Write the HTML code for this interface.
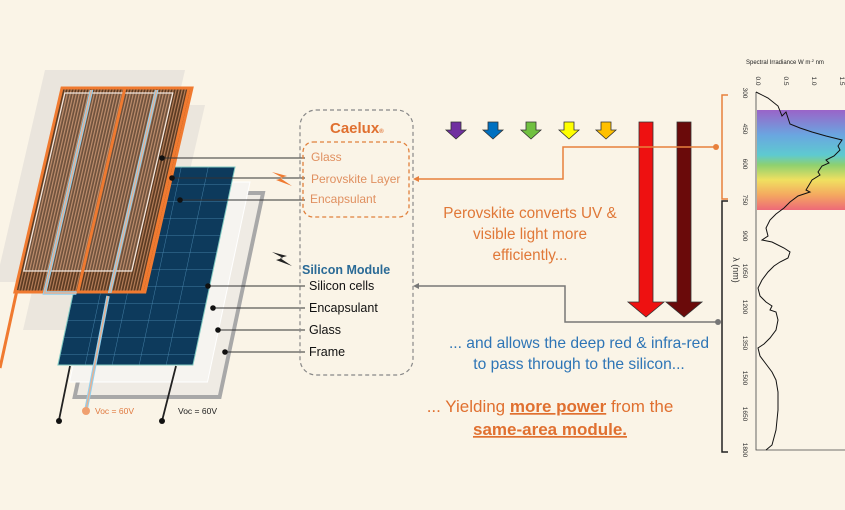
<!DOCTYPE html>
<html><head><meta charset="utf-8"><style>
html,body{margin:0;padding:0;background:#faf4e7;}
svg{display:block;font-family:"Liberation Sans",sans-serif;}
</style></head><body>
<svg width="845" height="510" viewBox="0 0 845 510" xmlns="http://www.w3.org/2000/svg">
<defs>
<pattern id="st" width="3" height="10" patternUnits="userSpaceOnUse"><rect width="3" height="10" fill="#5a3a22"/><rect width="1.2" height="10" fill="#b8805a"/></pattern>
<pattern id="cells" width="27" height="17" patternUnits="userSpaceOnUse"><rect width="27" height="17" fill="#0d3a5c"/><path d="M0 0H27M0 0V17" stroke="#4f8fb8" stroke-width="0.8"/></pattern>
<linearGradient id="rb" x1="0" y1="0" x2="0" y2="1">
<stop offset="0" stop-color="#9a64c8"/><stop offset="0.25" stop-color="#6aa6e0"/><stop offset="0.45" stop-color="#5ecad0"/><stop offset="0.55" stop-color="#8ed070"/><stop offset="0.7" stop-color="#f0e060"/><stop offset="0.85" stop-color="#f4a860"/><stop offset="1" stop-color="#ee6a78"/></linearGradient>
</defs>
<rect width="845" height="510" fill="#faf4e7"/>
<g transform="translate(45,70) skewX(-13)"><rect width="140" height="212" fill="#e6e2da" opacity="0.85"/></g>
<g transform="translate(75,105) skewX(-13)"><rect width="130" height="225" fill="#e4e0d8" opacity="0.7"/></g>
<g transform="translate(118,193) skewX(-12)"><rect width="145" height="204" fill="#efebe4" stroke="#a8a8a8" stroke-width="4"/></g>
<g transform="translate(112,182) skewX(-12)"><rect width="138" height="200" fill="#f6f4f0" stroke="#fff" stroke-width="1"/></g>
<g transform="translate(100,167) skewX(-12)"><rect width="135" height="198" fill="url(#cells)" stroke="#7fc8c0" stroke-width="1"/></g>
<g transform="translate(62,88) skewX(-13)">
<rect width="130" height="204" fill="url(#st)"/>
<rect x="0" y="0" width="130" height="204" fill="none" stroke="#f07a30" stroke-width="3"/>
<rect x="4" y="5" width="108" height="178" fill="#ffffff" fill-opacity="0.12" stroke="#f2e8e0" stroke-width="1.2"/>
<path d="M30 2V205H62" fill="none" stroke="#8fd0f0" stroke-width="3.5"/><path d="M30 2V205H62" fill="none" stroke="#e8b090" stroke-width="1.5"/>
<path d="M95 2V205" fill="none" stroke="#8fd0f0" stroke-width="3.5"/><path d="M95 2V205" fill="none" stroke="#e8b090" stroke-width="1.5"/>
<path d="M63 0V204" stroke="#f07a30" stroke-width="3"/>
<path d="M127 0V204" stroke="#f07a30" stroke-width="3"/>
</g>
<path d="M17 290L0 368" stroke="#f07a30" stroke-width="3"/>
<path d="M108 296L86 410" stroke="#8fd0f0" stroke-width="3.5"/><path d="M108 296L86 410" stroke="#e8b090" stroke-width="1.5"/>
<circle cx="86" cy="411" r="4" fill="#f0a070"/>
<text x="95" y="414" font-size="8.5" fill="#e07a40">Voc = 60V</text>
<path d="M70 366L59 420M176 366L162 421" stroke="#222" stroke-width="1.8"/>
<circle cx="59" cy="421" r="3" fill="#111"/><circle cx="162" cy="421" r="3" fill="#111"/>
<text x="178" y="414" font-size="8.5" fill="#222">Voc = 60V</text>
<g stroke="#333" stroke-width="1.1">
<path d="M162 158H305M172 178H305M180 200H305M208 286H305M213 308H305M218 330H305M225 352H305"/>
</g>
<g fill="#111"><circle cx="162" cy="158" r="2.8"/><circle cx="172" cy="178" r="2.8"/><circle cx="180" cy="200" r="2.8"/><circle cx="208" cy="286" r="2.8"/><circle cx="213" cy="308" r="2.8"/><circle cx="218" cy="330" r="2.8"/><circle cx="225" cy="352" r="2.8"/></g>
<path d="M272 172L287 176L280 178L292 186L276 180L283 178Z" fill="#f07a30"/>
<path d="M272 252L287 256L280 258L292 266L276 260L283 258Z" fill="#222"/>
<rect x="300" y="110" width="113" height="265" rx="16" fill="none" stroke="#888" stroke-width="1.2" stroke-dasharray="4,3"/>
<rect x="303" y="142" width="106" height="75" rx="10" fill="none" stroke="#e0803c" stroke-width="1.3" stroke-dasharray="4,3"/>
<text x="330" y="133" font-size="15" font-weight="bold" fill="#e07030">Caelux<tspan font-size="6">®</tspan></text>
<g font-size="12" fill="#e09060"><text x="311" y="161">Glass</text><text x="311" y="183">Perovskite Layer</text><text x="310" y="203">Encapsulant</text></g>
<text x="302" y="274" font-size="12.5" font-weight="bold" fill="#2a6a96">Silicon Module</text>
<g font-size="12.5" fill="#111"><text x="309" y="290">Silicon cells</text><text x="309" y="312">Encapsulant</text><text x="309" y="334">Glass</text><text x="309" y="356">Frame</text></g>
<g stroke="#333" stroke-width="0.8">
<path d="M451 122h10v8h5l-10 9l-10-9h5z" fill="#7030a0"/>
<path d="M488 122h10v8h5l-10 9l-10-9h5z" fill="#0070c0"/>
<path d="M526 122h10v8h5l-10 9l-10-9h5z" fill="#70c040"/>
<path d="M564 122h10v8h5l-10 9l-10-9h5z" fill="#ffff00"/>
<path d="M601 122h10v8h5l-10 9l-10-9h5z" fill="#ffc000"/>
<path d="M639 122h14v180h11l-18 15l-18-15h11z" fill="#ee1111"/>
<path d="M677 122h14v180h11l-18 15l-18-15h11z" fill="#6a0a0a"/>
</g>
<path d="M718 147H563V179H416" fill="none" stroke="#e8803c" stroke-width="1.5"/>
<path d="M413 179l6-3v6z" fill="#e8803c"/><circle cx="716" cy="147" r="3" fill="#e8803c"/>
<path d="M720 322H565V286H416" fill="none" stroke="#777" stroke-width="1.5"/>
<path d="M413 286l6-3v6z" fill="#777"/><circle cx="718" cy="322" r="3" fill="#777"/>
<g font-size="15.3" fill="#e07838" text-anchor="middle"><text x="530" y="218">Perovskite converts UV &amp;</text><text x="530" y="239">visible light more</text><text x="530" y="260">efficiently...</text></g>
<g font-size="15.6" fill="#2e75b6" text-anchor="middle"><text x="579" y="348">... and allows the deep red &amp; infra-red</text><text x="579" y="369">to pass through to the silicon...</text></g>
<g font-size="17" fill="#e07030" text-anchor="middle"><text x="550" y="412">... Yielding <tspan font-weight="bold" text-decoration="underline">more power</tspan> from the</text><text x="550" y="435" font-weight="bold" text-decoration="underline">same-area module.</text></g>
<rect x="757" y="110" width="88" height="100" fill="url(#rb)"/>
<path d="M728 95H722V199H728" fill="none" stroke="#e8803c" stroke-width="1.5"/>
<path d="M728 201H722V452H728" fill="none" stroke="#222" stroke-width="1.5"/>
<path d="M756 92V450H845" fill="none" stroke="#444" stroke-width="0.8"/>
<text x="746" y="64" font-size="6" fill="#222">Spectral Irradiance W m<tspan font-size="4" dy="-2">-2</tspan><tspan dy="2"> nm</tspan></text>
<g font-size="6.5" fill="#333">
<text transform="translate(743,93) rotate(90)" text-anchor="middle">300</text>
<text transform="translate(743,129) rotate(90)" text-anchor="middle">450</text>
<text transform="translate(743,164) rotate(90)" text-anchor="middle">600</text>
<text transform="translate(743,200) rotate(90)" text-anchor="middle">750</text>
<text transform="translate(743,236) rotate(90)" text-anchor="middle">900</text>
<text transform="translate(743,271) rotate(90)" text-anchor="middle">1050</text>
<text transform="translate(743,307) rotate(90)" text-anchor="middle">1200</text>
<text transform="translate(743,343) rotate(90)" text-anchor="middle">1350</text>
<text transform="translate(743,378) rotate(90)" text-anchor="middle">1500</text>
<text transform="translate(743,414) rotate(90)" text-anchor="middle">1650</text>
<text transform="translate(743,450) rotate(90)" text-anchor="middle">1800</text>
<text transform="translate(756,81) rotate(90)" text-anchor="middle">0.0</text>
<text transform="translate(784,81) rotate(90)" text-anchor="middle">0.5</text>
<text transform="translate(812,81) rotate(90)" text-anchor="middle">1.0</text>
<text transform="translate(840,81) rotate(90)" text-anchor="middle">1.5</text>
</g>
<text transform="translate(733,270) rotate(90)" font-size="9" fill="#333" text-anchor="middle">λ (nm)</text>
<polyline fill="none" stroke="#111" stroke-width="1" points="756,92 768,98 778,106 782,116 786,112 790,124 800,128 812,132 826,136 842,140 838,146 840,150 834,156 826,160 829,163 822,166 818,172 820,175 812,180 806,190 810,192 798,196 790,202 784,208 776,214 770,220 766,228 768,236 762,240 772,242 784,248 790,252 788,258 780,262 774,266 768,272 762,280 758,288 760,296 766,302 772,306 770,310 776,312 778,320 776,330 770,338 764,344 758,348 760,356 766,364 772,372 776,380 778,392 778,410 776,430 772,445 766,450"/>
</svg>
</body></html>
